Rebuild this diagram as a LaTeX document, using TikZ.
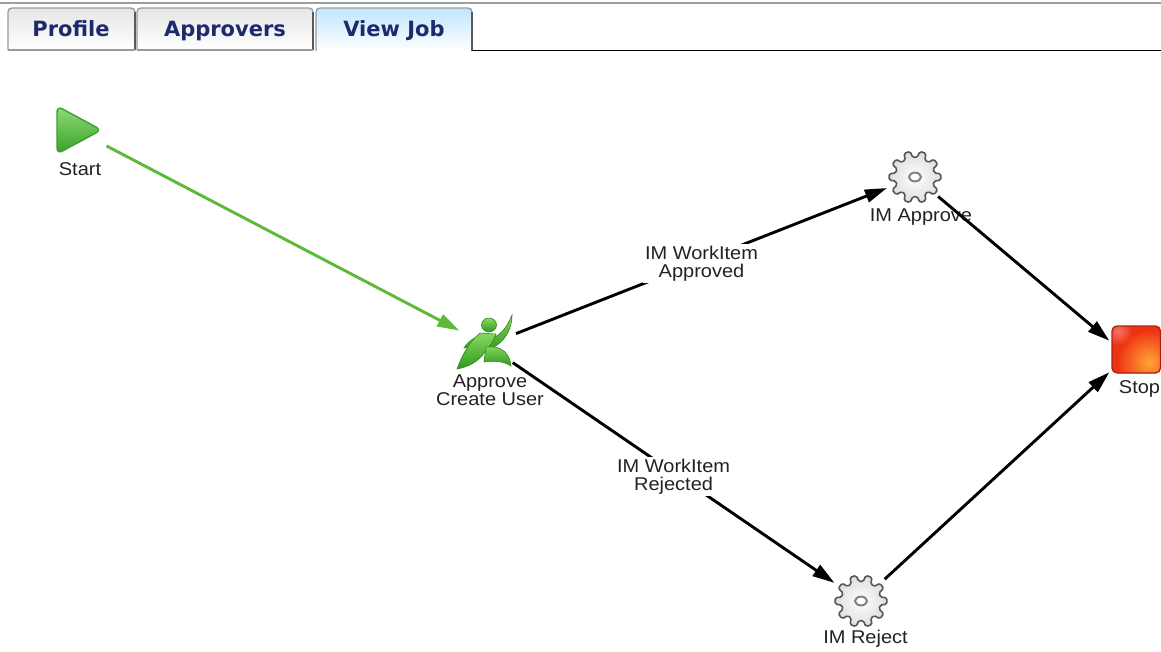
\documentclass[tikz,border=0pt]{standalone}
\usepackage{fontspec}
\setmainfont{Liberation Sans}[FakeStretch=1.08]
\newfontfamily\tabfont{DejaVu Sans}
\usetikzlibrary{arrows.meta,shapes.geometric}
\definecolor{tabnavy}{HTML}{1C2A6E}
\definecolor{startgreen}{HTML}{5CB93A}
\definecolor{trilight}{HTML}{8FDC77}
\definecolor{tridark}{HTML}{38A126}
\definecolor{triborder}{HTML}{3F9E34}
\definecolor{runlight}{HTML}{8AD85E}
\definecolor{rundark}{HTML}{2E9A1E}
\definecolor{runborder}{HTML}{2A8A1A}
\definecolor{stopred}{HTML}{EE3314}
\definecolor{stoporange}{HTML}{FFA635}
\definecolor{stopborder}{HTML}{B0200F}
\definecolor{txtgray}{HTML}{222222}
\definecolor{tabborder}{HTML}{9A9A9A}
\definecolor{tabdark}{HTML}{5A5A5A}
\definecolor{baseline}{HTML}{7684AC}
\begin{document}
\begin{tikzpicture}[x=1pt,y=-1pt,
  lbl/.style={font=\fontsize{18.5}{18}\selectfont, text=txtgray, inner sep=0pt},
  elabel/.style={lbl, align=center, fill=white, inner sep=2pt},
  hub/.style={circle, inner sep=0pt, minimum size=#1},
  flow/.style={line width=2.9pt, draw=black, -{Triangle[length=22pt,width=13pt]}},
  tabtxt/.style={font=\tabfont\bfseries\fontsize{21}{24}\selectfont, text=tabnavy, anchor=base, inner sep=0pt},
  gearpic/.pic={
    \shadedraw[inner color=white, outer color=black!13, draw=black!66, line width=1.6pt, rounded corners=1.6pt]
      (-12:19.5) \foreach \a in {0,36,...,324} { -- (\a-7:26) -- (\a+7:26) -- (\a+12:19.5) arc[start angle=\a+12, end angle=\a+24, radius=19.5] } -- cycle;
    \draw[fill=white, draw=black!50, line width=2pt] (0,0) ellipse [x radius=6, y radius=4.4];
  }
]
\useasboundingbox (0,0) rectangle (1161,651);
\fill[white] (0,0) rectangle (1161,651);

% ---------- tab bar ----------
\draw[black!38, line width=1.2pt] (0,3) -- (1161,3);
\shade[top color=black!10, bottom color=white] (8,50) -- (8,8) -- (135,8) -- (135,50) -- cycle;
\draw[tabborder, line width=1.2pt, rounded corners=4pt] (8,50) -- (8,8) -- (135,8) -- (135,50);
\draw[tabdark, line width=1.2pt] (135,12) -- (135,50);
\draw[tabborder, line width=1.2pt] (8,50) -- (135,50);
\shade[top color=black!10, bottom color=white] (137,50) -- (137,8) -- (313,8) -- (313,50) -- cycle;
\draw[tabborder, line width=1.2pt, rounded corners=4pt] (137,50) -- (137,8) -- (313,8) -- (313,50);
\draw[tabdark, line width=1.2pt] (313,12) -- (313,50);
\draw[tabborder, line width=1.2pt] (137,50) -- (313,50);
\shade[top color=blue!40!cyan!25, bottom color=white] (316,51) -- (316,8) -- (472,8) -- (472,51) -- cycle;
\draw[tabborder, line width=1.2pt, rounded corners=4pt] (316,51) -- (316,8) -- (472,8) -- (472,51);
\draw[tabdark, line width=1.3pt] (472,12) -- (472,51);
\draw[baseline, line width=1.4pt] (472,50.5) -- (1161,50.5);
\node[tabtxt] (tabprofile) at (71,36.5) {Profile};
\node[tabtxt] (tabapprovers) at (225,36.5) {Approvers};
\node[tabtxt] (tabviewjob) at (394,36.5) {View Job};

% ---------- hubs ----------
\node[hub=64pt] (start) at (78,131) {};
\node[hub=62pt] (approve) at (487,345) {};
\node[hub=60pt] (imapprove) at (915,177) {};
\node[hub=64pt] (imreject) at (861,601) {};
\node[rectangle, inner sep=0pt, minimum size=54pt] (stop) at (1136.5,349.5) {};

% ---------- icons ----------
% start triangle
\shadedraw[top color=trilight, bottom color=tridark, draw=triborder, line width=1.4pt, rounded corners=6pt]
  (57,106) -- (101.5,130) -- (57,154) -- cycle;
% runner
\begin{scope}[draw=runborder, line width=0.6pt]
  \shadedraw[top color=runlight, bottom color=rundark] (489,325) ellipse [x radius=7.5, y radius=7];
  \shadedraw[top color=runlight, bottom color=rundark]
    (480,338) .. controls (495,342) and (505,332) .. (512,315) .. controls (512,333) and (500,348) .. (484,350) -- cycle;
  \shadedraw[top color=runlight, bottom color=rundark]
    (484,335) .. controls (476,336) and (468,341) .. (464,348) .. controls (471,346) and (478,345) .. (484,345) -- cycle;
  \shadedraw[top color=runlight, bottom color=rundark]
    (480,333) .. controls (468,343) and (462,356) .. (457,369) .. controls (468,367) and (478,362) .. (485,352) .. controls (490,346) and (494,340) .. (496,334) -- cycle;
  \shadedraw[top color=runlight, bottom color=rundark]
    (486,347) .. controls (502,345) and (510,354) .. (511,366) .. controls (505,362) and (496,360) .. (484,362) -- cycle;
\end{scope}
% gears
\pic at (915,177) {gearpic};
\pic at (861,601) {gearpic};
% stop square
\fill[stopred, rounded corners=5pt] (1112,326) rectangle (1160.5,373);
\begin{scope}
  \clip[rounded corners=5pt] (1112,326) rectangle (1160.5,373);
  \shade[inner color=stoporange, outer color=stopred] (1149,362) circle (32);
  \shade[inner color=white!55!stopred, outer color=stopred, opacity=0.6] (1118,331) circle (14);
\end{scope}
\draw[stopborder, line width=1.3pt, rounded corners=5pt] (1112,326) rectangle (1160.5,373);

% ---------- labels ----------
\node[lbl, anchor=base] (startlbl) at (80,175) {Start};
\node[lbl, align=center, anchor=north] (approvelbl) at (490,374.5) {Approve\\Create User};
\node[lbl, anchor=base] (imapprovelbl) at (921,221.7) {IM Approve};
\node[lbl, anchor=base] (imrejectlbl) at (865.5,643.3) {IM Reject};
\node[lbl, anchor=base] (stoplbl) at (1139.5,393.3) {Stop};

% ---------- connectors ----------
\draw[flow, draw=startgreen] (start) -- (approve);
\draw[flow] (approve) -- (imapprove) node[elabel, pos=0.5, yshift=-3pt] (lblapproved) {IM WorkItem\\Approved};
\draw[flow] (approve) -- (imreject) node[elabel, pos=0.5, yshift=-4pt] (lblrejected) {IM WorkItem\\Rejected};
\draw[flow] (imapprove) -- (stop.162);
\draw[flow] (imreject) -- (stop.220);
\end{tikzpicture}
\end{document}
